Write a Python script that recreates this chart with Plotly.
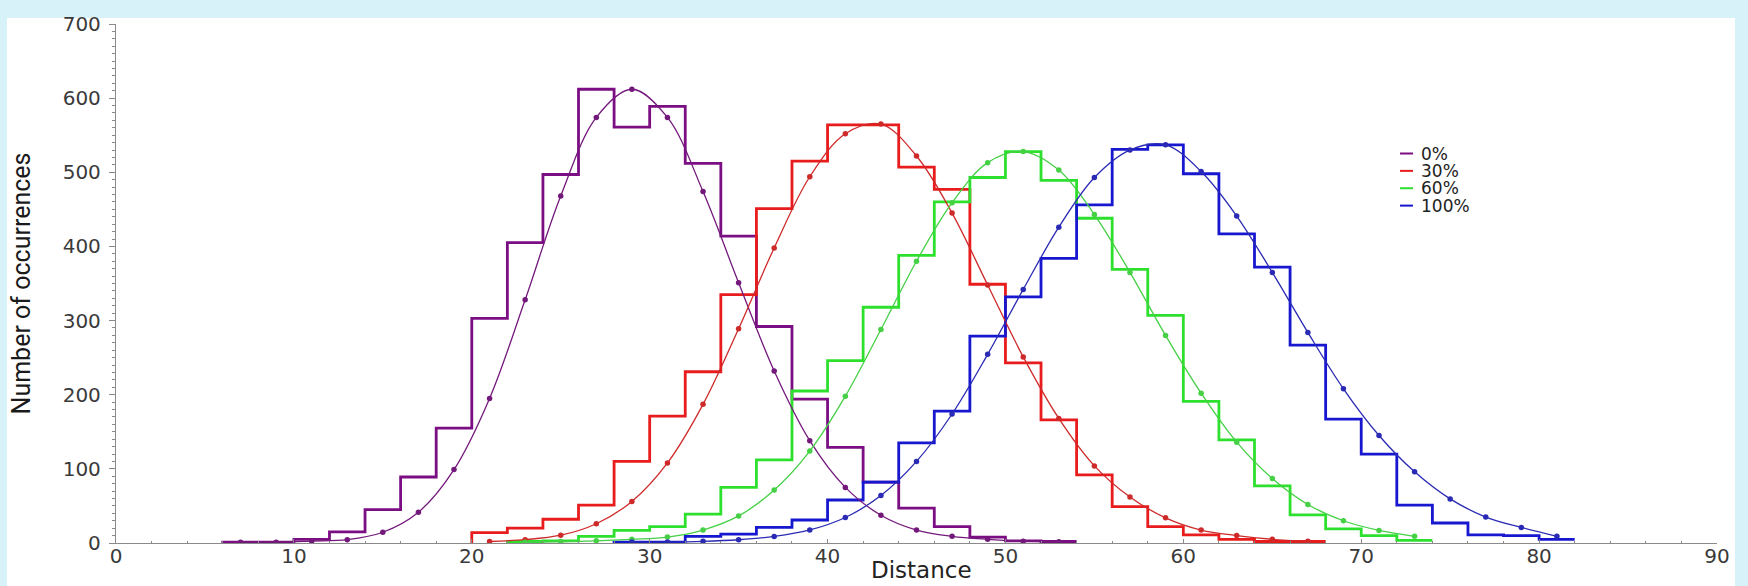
import plotly.graph_objects as go

# ---------------- data ----------------
BIN_WIDTH = 2
series_names = ["0%", "30%", "60%", "100%"]

# 0 %  (purple)
purple_bin_start = 6
purple_counts = [1, 1, 5, 15, 45, 89, 155, 303, 405, 497, 612, 561,
                 589, 512, 414, 292, 194, 129, 82, 47, 22, 8, 3, 2]
purple_fit = [1, 1, 2.5, 4.5, 14.5, 41.5, 99, 195, 328, 468, 574, 612,
              574, 474, 351, 232, 138, 75, 37.5, 17.5, 9, 5, 2.5, 1.8]

# 30 % (red)
red_bin_start = 20
red_counts = [14, 20, 32, 51, 110, 171, 231, 335, 451, 515, 564, 564,
              507, 477, 349, 243, 166, 92, 49, 22, 11, 5, 2, 2]
red_fit = [2, 4.5, 10.5, 26, 56, 108, 187, 289, 398, 494, 552, 565,
           522, 445, 348, 251, 168, 104, 62, 34, 17.5, 10, 5, 2.5]

# 60 % (green)
green_bin_start = 22
green_counts = [2, 3, 9, 17, 22, 39, 75, 112, 205, 246, 318, 388, 460,
                493, 528, 489, 438, 369, 307, 191, 139, 77, 38, 19, 10, 3.5]
green_fit = [1, 2, 3, 5, 8, 17.5, 36.5, 71.5, 124, 198, 288, 380, 459,
             513, 528, 503, 443, 365, 280, 202, 136, 87, 52, 30, 17, 9]

# 100 % (blue)
blue_bin_start = 28
blue_counts = [1, 1, 9, 12, 21, 31, 58, 82, 135, 178, 279, 332, 384, 456,
               531, 537, 498, 417, 372, 267, 167, 120, 51, 27, 11, 10, 5]
blue_fit = [1.3, 1.3, 2.2, 4.4, 8.8, 17.6, 34.4, 64, 110, 174, 254.5, 342,
            426, 493, 530, 537, 501, 441, 365, 284, 208, 145, 96, 59.5, 35,
            21, 9]

x_tick_vals = [0, 10, 20, 30, 40, 50, 60, 70, 80, 90]
y_tick_vals = [0, 100, 200, 300, 400, 500, 600, 700]

# ---------------- styles ----------------
hist_colors = ["#7c0e84", "#e81c1c", "#2ee02e", "#1717cf"]
fit_colors = ["#74197c", "#cf2a2a", "#45d045", "#2a2ab4"]
TICK_FONT = dict(family="DejaVu Sans", size=20, color="#3a3a3a")
AXIS_COLOR = "#8a8a8a"

# plot-area geometry in pixels (for layout items only)
L, R, T, B, W, H = 116, 31, 14, 43, 1748, 586
PW, PH = W - L - R, H - T - B


def px_x(px):
    return (px - L) / PW


def px_y(py):
    return (H - B - py) / PH


series = [
    (purple_bin_start, purple_counts, purple_fit),
    (red_bin_start, red_counts, red_fit),
    (green_bin_start, green_counts, green_fit),
    (blue_bin_start, blue_counts, blue_fit),
]

fig = go.Figure()

# histograms drawn as step outlines
for name, color, (start, counts, fit) in zip(series_names, hist_colors, series):
    n = len(counts)
    xs = [start] + [start + BIN_WIDTH * i for i in range(n)] + [start + BIN_WIDTH * n]
    ys = [0] + list(counts) + [counts[-1]]
    fig.add_trace(go.Scatter(
        x=xs, y=ys, mode="lines", name=name,
        line=dict(color=color, width=2.8, shape="hv"),
        showlegend=False,
    ))

# fitted curves with points at bin centres
for name, color, (start, counts, fit) in zip(series_names, fit_colors, series):
    xc = [start + BIN_WIDTH / 2 + BIN_WIDTH * i for i in range(len(fit))]
    fig.add_trace(go.Scatter(
        x=xc, y=fit, mode="lines+markers", name=name + " fit",
        line=dict(color=color, width=1.3, shape="spline", smoothing=1.0),
        marker=dict(color=color, size=5.5),
        showlegend=False,
    ))

# white panel on the light cyan page
fig.add_shape(type="rect", xref="paper", yref="paper",
              x0=px_x(7), x1=px_x(1735), y0=px_y(592), y1=px_y(8),
              fillcolor="white", line=dict(width=0), layer="below")

# legend (short line samples + labels)
for i, (name, color) in enumerate(zip(series_names, hist_colors)):
    ry = px_y(146 + 17.7 * i)
    fig.add_shape(type="line", xref="paper", yref="paper",
                  x0=px_x(1400), x1=px_x(1413), y0=ry, y1=ry,
                  line=dict(color=color, width=2))
    fig.add_annotation(text=name, xref="paper", yref="paper",
                       x=px_x(1419), y=ry, xanchor="left", yanchor="middle",
                       showarrow=False,
                       font=dict(family="DejaVu Sans", size=17, color="#222222"))

fig.add_annotation(text="Distance", xref="paper", yref="paper",
                   x=0.503, y=px_y(585), xanchor="center", yanchor="bottom",
                   showarrow=False, borderpad=0,
                   font=dict(family="DejaVu Sans", size=23, color="#222222"))

fig.update_layout(
    width=W, height=H,
    margin=dict(l=L, r=R, t=T, b=B),
    paper_bgcolor="#d7f2f8",
    plot_bgcolor="white",
    showlegend=False,
    xaxis=dict(range=[0, 90], tickvals=x_tick_vals, showgrid=False, zeroline=False,
               showline=True, linecolor=AXIS_COLOR, linewidth=1.3,
               ticks="inside", ticklen=4, tickcolor=AXIS_COLOR, tickfont=TICK_FONT,
               ticklabelstandoff=-5,
               minor=dict(dtick=2, ticks="inside", ticklen=2, tickcolor=AXIS_COLOR)),
    yaxis=dict(range=[0, 700], tickvals=y_tick_vals, showgrid=False, zeroline=False,
               showline=True, linecolor=AXIS_COLOR, linewidth=1.3,
               ticks="outside", ticklen=6, tickcolor=AXIS_COLOR, tickfont=TICK_FONT,
               ticklabelstandoff=4,
               minor=dict(dtick=10, ticks="outside", ticklen=3, tickcolor=AXIS_COLOR),
               title=dict(text="Number of occurrences", standoff=24,
                          font=dict(family="Roboto", size=25, color="#1a1a1a"))),
)

fig.write_html("out.html")
